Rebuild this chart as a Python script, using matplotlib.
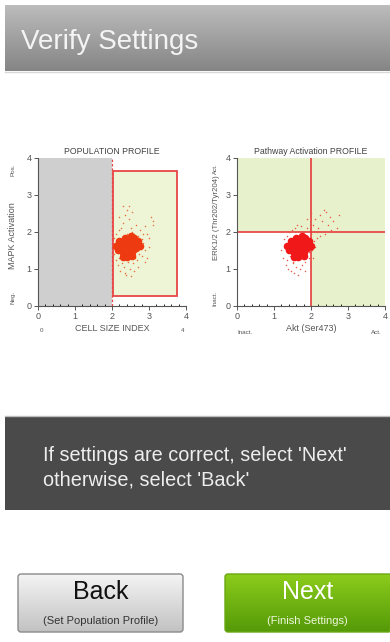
import numpy as np
import matplotlib
matplotlib.use('Agg')
import matplotlib.pyplot as plt
from matplotlib.patches import Rectangle, FancyBboxPatch

plt.rcParams['font.family'] = ['Liberation Sans', 'DejaVu Sans']

# screen texts
header_title = 'Verify Settings'
message_lines = ["If settings are correct, select 'Next'", "otherwise, select 'Back'"]
back_label, back_sub = 'Back', '(Set Population Profile)'
next_label, next_sub = 'Next', '(Finish Settings)'

# axis ticks
ticks = [0, 1, 2, 3, 4]

# population profile (cell size index vs MAPK activation)
pop_gate = [2.02, 0.28, 3.76, 3.66]   # x0, y0, x1, y1
pop_core_x = [2.30, 2.40, 2.50, 2.60, 2.35, 2.45, 2.55, 2.25, 2.40, 2.50, 2.65,
              2.30, 2.45, 2.55, 2.20, 2.35, 2.50, 2.60, 2.40, 2.15, 2.70, 2.45,
              2.20, 2.60, 2.35, 2.50, 2.55, 2.30, 2.62, 2.10, 2.75]
pop_core_y = [1.75, 1.80, 1.78, 1.70, 1.65, 1.62, 1.66, 1.55, 1.50, 1.52, 1.58,
              1.42, 1.40, 1.45, 1.65, 1.85, 1.88, 1.85, 1.33, 1.50, 1.75, 1.70,
              1.75, 1.55, 1.50, 1.62, 1.35, 1.32, 1.78, 1.62, 1.62]
pop_x = [2.05, 2.08, 2.10, 2.12, 2.15, 2.18, 2.20, 2.22, 2.25, 2.28, 2.30, 2.32,
         2.35, 2.38, 2.40, 2.42, 2.45, 2.48, 2.50, 2.52, 2.55, 2.58, 2.60, 2.62,
         2.65, 2.68, 2.70, 2.72, 2.75, 2.78, 2.80, 2.82, 2.85, 2.88, 2.90, 2.95,
         3.00, 3.05, 3.10, 3.12, 2.30, 2.45, 2.55, 2.20, 2.60, 2.35, 2.70, 2.90,
         3.00, 2.05, 2.10, 2.15, 2.85, 2.95, 2.40, 2.65]
pop_y = [1.40, 1.70, 1.25, 1.95, 1.10, 2.05, 1.30, 0.95, 2.10, 1.15, 2.25, 1.05,
         2.45, 0.85, 2.60, 1.20, 2.35, 1.00, 2.10, 0.80, 2.00, 1.15, 1.95, 1.30,
         2.20, 1.25, 1.90, 1.40, 2.05, 1.55, 1.80, 1.35, 1.70, 2.15, 1.50, 1.95,
         1.60, 2.40, 2.30, 2.20, 2.70, 2.70, 2.55, 2.40, 0.95, 0.90, 1.05, 1.20,
         1.85, 1.85, 1.55, 1.80, 1.95, 1.30, 1.95, 1.60]

# pathway activation (Akt vs ERK1/2)
pw_core_x = [1.55, 1.65, 1.75, 1.85, 1.60, 1.70, 1.80, 1.50, 1.65, 1.75, 1.90,
             1.55, 1.70, 1.80, 1.45, 1.60, 1.75, 1.85, 1.65, 1.40, 1.95, 1.70,
             1.45, 1.85, 1.60, 1.75, 1.80, 1.55, 1.87, 1.35, 2.00]
pw_core_y = [1.75, 1.80, 1.78, 1.70, 1.65, 1.62, 1.66, 1.55, 1.50, 1.52, 1.58,
             1.42, 1.40, 1.45, 1.65, 1.85, 1.88, 1.85, 1.33, 1.50, 1.75, 1.70,
             1.75, 1.55, 1.50, 1.62, 1.35, 1.32, 1.78, 1.62, 1.62]
pw_x = [1.25, 1.30, 1.32, 1.35, 1.38, 1.40, 1.42, 1.45, 1.48, 1.50, 1.52, 1.55,
        1.58, 1.60, 1.62, 1.65, 1.70, 1.72, 1.75, 1.80, 1.85, 1.90, 1.95, 2.00,
        2.02, 2.05, 2.08, 2.10, 2.15, 2.20, 2.25, 2.30, 2.35, 2.40, 2.45, 2.50,
        2.55, 2.60, 2.70, 2.75, 2.15, 1.90, 2.00, 2.25, 1.20, 1.28, 1.35, 1.45,
        1.95, 2.05, 1.85, 2.10, 2.38]
pw_y = [1.30, 1.60, 1.10, 1.90, 1.00, 2.00, 1.35, 0.95, 2.05, 1.20, 1.15, 0.90,
        2.10, 1.05, 2.20, 0.85, 1.00, 2.15, 1.10, 2.00, 1.20, 2.10, 1.30, 1.95,
        1.50, 2.20, 1.75, 2.35, 1.85, 2.10, 2.45, 2.30, 2.60, 2.55, 2.20, 2.40,
        2.05, 2.30, 2.10, 2.45, 2.00, 2.35, 2.50, 1.90, 1.50, 1.80, 1.25, 1.75,
        1.45, 1.30, 0.95, 1.60, 1.95]

W, H = 390, 642
fig = plt.figure(figsize=(W / 100, H / 100), dpi=100)
fig.patch.set_facecolor('white')

bg = fig.add_axes([0, 0, 1, 1])
bg.set_xlim(0, W)
bg.set_ylim(H, 0)
bg.axis('off')


def gradient_box(ax, x0, y0, x1, y1, top, bottom, rounded=False, edge=None):
    c0 = np.array(matplotlib.colors.to_rgb(top))
    c1 = np.array(matplotlib.colors.to_rgb(bottom))
    t = np.linspace(0, 1, 64)[:, None, None]
    img = c0 + (c1 - c0) * t
    im = ax.imshow(img, extent=[x0, x1, y1, y0], aspect='auto', zorder=1)
    if rounded:
        patch = FancyBboxPatch((x0, y0), x1 - x0, y1 - y0,
                               boxstyle='round,pad=0,rounding_size=3',
                               facecolor='none', edgecolor=edge or 'none',
                               lw=1.0, zorder=2)
        ax.add_patch(patch)
        im.set_clip_path(patch)


# header bar
gradient_box(bg, 5, 5, W, 71, '#bcbcbc', '#858585')
bg.plot([5, W], [71.5, 71.5], color='#d8d8d8', lw=1, zorder=2)
bg.text(21, 49, header_title, color='#f4f4f4', fontsize=20, va='baseline', zorder=3)

# message box
bg.add_patch(Rectangle((5, 416), W - 5, 94, facecolor='#4a4a4a', edgecolor='none'))
bg.plot([5, W], [416, 416], color='#bdbdbd', lw=1)
bg.text(43, 461, message_lines[0], color='#eeeeee', fontsize=14.3, va='baseline')
bg.text(43, 485, message_lines[1], color='#eeeeee', fontsize=14.3, va='baseline')

# buttons
gradient_box(bg, 18, 574, 183, 632, '#f4f4f4', '#c2c2c2', rounded=True, edge='#8a8a8a')
bg.text(100.5, 592, back_label, color='#111111', fontsize=18, ha='center', va='center', zorder=3)
bg.text(100.5, 621, back_sub, color='#333333', fontsize=8, ha='center', va='center', zorder=3)
gradient_box(bg, 225, 574, 392, 632, '#8ccc1c', '#559a08', rounded=True, edge='#6aa812')
bg.text(307.5, 592, next_label, color='white', fontsize=18, ha='center', va='center', zorder=3)
bg.text(307.5, 621, next_sub, color='#eef7dc', fontsize=8, ha='center', va='center', zorder=3)

# plot side labels
lab = dict(color='#555555', ha='center', va='center')
bg.text(13, 236, 'MAPK Activation', rotation=90, fontsize=6.5, **lab)
bg.text(13, 170, 'Pos.', rotation=90, fontsize=4.5, **lab)
bg.text(13, 297, 'Neg.', rotation=90, fontsize=4.5, **lab)
bg.text(41, 331, '0', fontsize=4.5, **lab)
bg.text(183, 331, '4', fontsize=4.5, **lab)
bg.text(217, 218, 'ERK1/2 (Thr202/Tyr204)', rotation=90, fontsize=5.6, **lab)
bg.text(215, 169, 'Act.', rotation=90, fontsize=4.5, **lab)
bg.text(215, 298, 'Inact.', rotation=90, fontsize=4.5, **lab)
bg.text(245, 332, 'Inact.', fontsize=4.5, **lab)
bg.text(376, 332, 'Act.', fontsize=4.5, **lab)


def style_axes(ax, title, xlabel):
    ax.set_xlim(0, 4)
    ax.set_ylim(0, 4)
    ax.set_xticks(ticks)
    ax.set_yticks(ticks)
    ax.set_xticks(np.arange(0, 4.01, 0.2), minor=True)
    ax.tick_params(labelsize=6.5, labelcolor='#555555', colors='#555555',
                   length=3, width=0.7, pad=1.5)
    ax.tick_params(axis='x', which='minor', length=1.5, width=0.6, direction='in')
    for s in ['top', 'right']:
        ax.spines[s].set_visible(False)
    for s in ['left', 'bottom']:
        ax.spines[s].set_color('#555555')
        ax.spines[s].set_linewidth(0.8)
    ax.set_title(title, fontsize=6.3, color='#444444', pad=3)
    ax.set_xlabel(xlabel, fontsize=6.5, color='#555555', labelpad=2)


# population profile
ax1 = fig.add_axes([38 / W, 1 - 306 / H, 148 / W, 148 / H])
ax1.add_patch(Rectangle((0, 0), 2, 4, facecolor='#cfcfcf', edgecolor='none', zorder=0))
ax1.add_patch(Rectangle((pop_gate[0], pop_gate[1]), pop_gate[2] - pop_gate[0],
                        pop_gate[3] - pop_gate[1], facecolor='#eef5d6',
                        edgecolor='#e84545', lw=1.3, zorder=1))
ax1.axvline(2, color='#e84545', lw=0.9, ls=(0, (2, 1.5)), zorder=2)
ax1.scatter(pop_x, pop_y, s=1.2, color='#e8703c', linewidths=0, zorder=3)
ax1.scatter(pop_core_x, pop_core_y, s=30, color='#ee3a10', linewidths=0, zorder=4)
style_axes(ax1, 'POPULATION PROFILE', 'CELL SIZE INDEX')

# pathway activation profile
ax2 = fig.add_axes([237 / W, 1 - 306 / H, 148 / W, 148 / H])
ax2.set_facecolor('#e7f1cb')
ax2.add_patch(Rectangle((0, 0), 2, 2, facecolor='white', edgecolor='none', zorder=0))
ax2.axvline(2, color='#e83c3c', lw=1.2, zorder=2)
ax2.axhline(2, color='#e83c3c', lw=1.2, zorder=2)
ax2.scatter(pw_x, pw_y, s=1.2, color='#e85a4a', linewidths=0, zorder=3)
ax2.scatter(pw_core_x, pw_core_y, s=30, color='#f01818', linewidths=0, zorder=4)
style_axes(ax2, 'Pathway Activation PROFILE', 'Akt (Ser473)')

fig.savefig('out.png', dpi=100)
